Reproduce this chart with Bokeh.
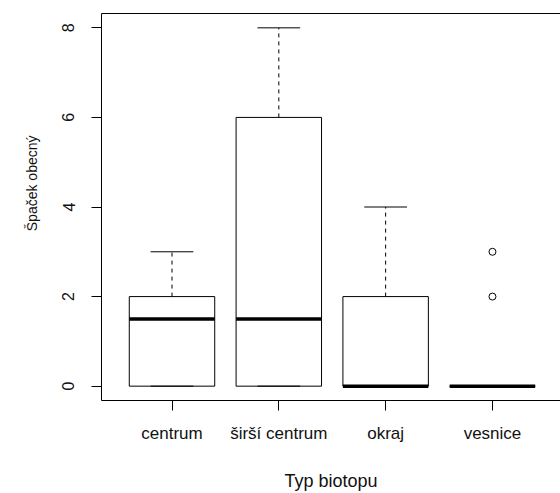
import math
from bokeh.plotting import figure
from bokeh.models import FixedTicker, LinearAxis, Title, Range1d
from bokeh.embed import file_html
from bokeh.resources import INLINE

# Data
categories = ["centrum", "širší centrum", "okraj", "vesnice"]
lower_whisker = [0, 0, 0, 0]
q1 = [0, 0, 0, 0]
median = [1.5, 1.5, 0, 0]
q3 = [2, 6, 2, 0]
upper_whisker = [3, 8, 4, 0]
outlier_group = [4, 4]
outlier_value = [2, 3]
y_ticks = [0, 2, 4, 6, 8]

xs = list(range(1, len(categories) + 1))
box_w = 0.8
cap_w = 0.4

p = figure(width=560, height=493, output_backend="svg", toolbar_location=None,
           x_range=Range1d(0.34, 4.637), y_range=Range1d(-0.32, 8.32),
           min_border_left=101, min_border_right=0, min_border_top=13, min_border_bottom=92,
           background_fill_color="white", border_fill_color="white")
p.outline_line_color = None
p.grid.visible = False

# axes
p.xaxis.ticker = FixedTicker(ticks=xs)
p.xaxis.major_label_overrides = {x: c for x, c in zip(xs, categories)}
p.yaxis.ticker = FixedTicker(ticks=y_ticks)
for ax in (p.xaxis[0], p.yaxis[0]):
    ax.axis_line_color = "black"
    ax.axis_line_width = 1
    ax.major_tick_line_color = "black"
    ax.major_tick_line_width = 1
    ax.major_tick_in = 0
    ax.major_tick_out = 10
    ax.minor_tick_line_color = None
    ax.major_label_text_font = "Liberation Sans"
    ax.major_label_text_color = "#111111"
p.xaxis.major_label_text_font_size = "17px"
p.xaxis.major_label_standoff = 13
p.xaxis.axis_label = "Typ biotopu"
p.xaxis.axis_label_text_font = "Liberation Sans"
p.xaxis.axis_label_text_font_size = "18px"
p.xaxis.axis_label_text_font_style = "normal"
p.xaxis.axis_label_text_color = "#111111"
p.xaxis.axis_label_standoff = 25
p.yaxis.major_label_text_font_size = "16px"
p.yaxis.major_label_orientation = "vertical"
p.yaxis.major_label_standoff = 17

top = LinearAxis(ticker=FixedTicker(ticks=[]), major_tick_out=0, major_tick_in=0,
                 major_label_standoff=0, minor_tick_line_color=None,
                 major_label_text_font_size="0px", axis_line_color="black")
p.add_layout(top, "above")

# y axis title
ytitle = Title(text="Špaček obecný", align="right", offset=122, standoff=40,
               text_font="Liberation Sans", text_font_size="14px",
               text_font_style="normal", text_color="#111111")
p.add_layout(ytitle, "left")

# boxes
x0 = [x - box_w / 2 for x in xs]
x1 = [x + box_w / 2 for x in xs]
p.quad(left=x0, right=x1, bottom=q1, top=q3, fill_color="white",
       line_color="black", line_width=1)
# whiskers
p.segment(x0=xs, x1=xs, y0=q3, y1=upper_whisker, line_color="black",
          line_width=1, line_dash="4 4")
p.segment(x0=xs, x1=xs, y0=q1, y1=lower_whisker, line_color="black",
          line_width=1, line_dash="4 4")
# caps
c0 = [x - cap_w / 2 for x in xs]
c1 = [x + cap_w / 2 for x in xs]
p.segment(x0=c0, x1=c1, y0=upper_whisker, y1=upper_whisker, line_color="black", line_width=1)
p.segment(x0=c0, x1=c1, y0=lower_whisker, y1=lower_whisker, line_color="black", line_width=1)
# medians
p.segment(x0=x0, x1=x1, y0=median, y1=median, line_color="black", line_width=3.5)
# outliers
p.scatter(x=outlier_group, y=outlier_value, marker="circle", size=7,
          fill_color=None, line_color="black", line_width=1)

open("out.html", "w").write(file_html(p, INLINE))
